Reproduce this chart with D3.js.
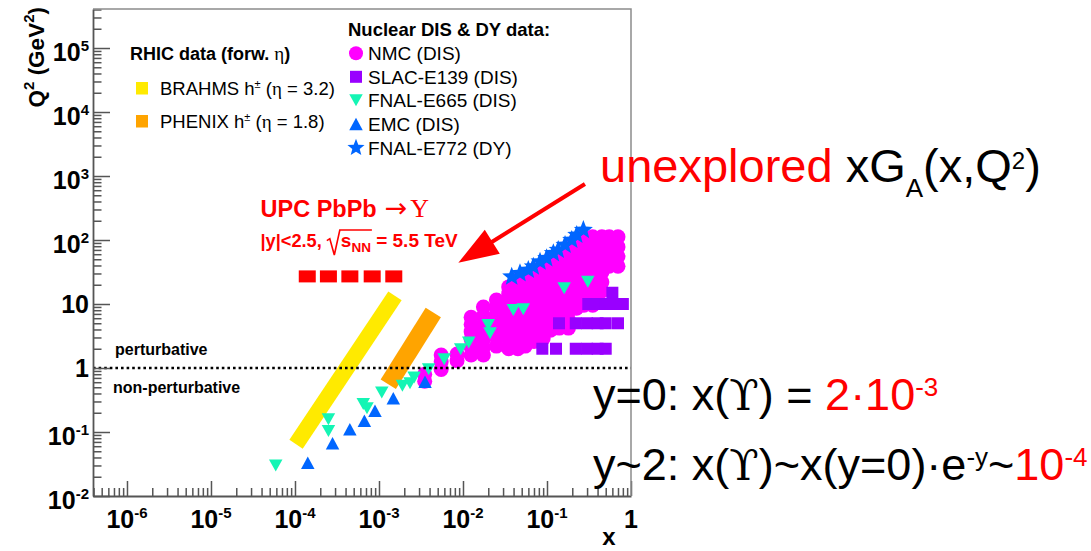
<!DOCTYPE html>
<html>
<head>
<meta charset="utf-8">
<script src="https://cdn.jsdelivr.net/npm/d3@7"></script>
<style>
html, body { margin: 0; padding: 0; background: #fff; }
svg { display: block; }
text { font-family: "Liberation Sans", Arial, Helvetica, sans-serif; white-space: pre; }
</style>
</head>
<body>
<svg id="chart" width="1091" height="551"></svg>
<script>
// ---------------- data ----------------
const xDomain = [3.94e-7, 1];
const q2Domain = [0.01, 4.07e5];

const xTickLabels = [
  { v: 1e-6, base: "10", exp: "-6" },
  { v: 1e-5, base: "10", exp: "-5" },
  { v: 1e-4, base: "10", exp: "-4" },
  { v: 1e-3, base: "10", exp: "-3" },
  { v: 1e-2, base: "10", exp: "-2" },
  { v: 1e-1, base: "10", exp: "-1" },
  { v: 1, base: "1", exp: "" }
];
const q2TickLabels = [
  { v: 1e-2, base: "10", exp: "-2" },
  { v: 1e-1, base: "10", exp: "-1" },
  { v: 1, base: "1", exp: "" },
  { v: 10, base: "10", exp: "" },
  { v: 1e2, base: "10", exp: "2" },
  { v: 1e3, base: "10", exp: "3" },
  { v: 1e4, base: "10", exp: "4" },
  { v: 1e5, base: "10", exp: "5" }
];

// NMC (DIS): x bins and the Q^2 values measured in each bin
const nmcX = [0.0035, 0.0055, 0.0085, 0.0125, 0.0175, 0.025, 0.035, 0.045, 0.055, 0.07,
              0.09, 0.11, 0.14, 0.18, 0.225, 0.275, 0.35, 0.45, 0.55, 0.70];
const nmcQ2 = [
  [0.62, 0.8],
  [0.95, 1.25, 1.6],
  [1.3, 1.65],
  [1.6, 2.1, 2.8, 3.7, 4.8, 6.2],
  [1.6, 2.1, 2.8, 3.7, 4.8, 6.5, 9],
  [2.2, 3, 4, 5.3, 7, 9, 11.5],
  [2, 2.8, 3.7, 5, 6.5, 8.5, 11, 14.5, 18.5],
  [2, 2.8, 3.7, 5, 6.5, 8.5, 11, 14.5, 18.5, 24],
  [2.2, 3, 4, 5.3, 7, 9, 12, 16, 21, 28],
  [2.6, 3.5, 4.6, 6, 8, 10.5, 14, 19, 25, 34],
  [2.9, 3.9, 5.2, 7, 9.3, 12.5, 16.5, 22, 30, 40],
  [3.9, 5.2, 7, 9.3, 12.5, 16.5, 22, 30, 40, 50],
  [4.2, 5.6, 7.5, 10, 13.5, 18, 24, 32, 43, 60],
  [4.2, 5.6, 7.5, 10, 13.5, 18, 24, 32, 43, 58, 78],
  [8.6, 11.5, 15.5, 21, 28, 38, 52, 75, 104],
  [9.6, 13, 18, 25, 35, 48, 65, 85, 112],
  [9.6, 13, 18, 25, 35, 48, 65, 85, 112],
  [16, 22, 31, 44, 62, 85, 112],
  [39, 55, 78, 112],
  [39, 55, 78, 112]
];

// SLAC-E139 (DIS)
const slacX  = [0.088, 0.128, 0.22, 0.3, 0.4, 0.5,
                0.139, 0.22, 0.3, 0.4, 0.5, 0.7,
                0.31, 0.4, 0.5, 0.6, 0.8,
                0.6];
const slacQ2 = [2, 2, 2, 2, 2, 2,
                5, 5, 5, 5, 5, 5,
                10, 10, 10, 10, 10,
                15];

// FNAL-E665 (DIS)
const e665X  = [5.9e-5, 2.5e-4, 2.5e-4, 6.5e-4, 7.2e-4, 1.08e-3, 1.9e-3, 2.34e-3, 2.62e-3,
                3.9e-3, 5.97e-3, 9.4e-3, 0.0117, 0.020, 0.021, 0.0397, 0.0522, 0.16, 0.306];
const e665Q2 = [0.030, 0.158, 0.104, 0.274, 0.235, 0.414, 0.527, 0.58, 0.71,
                0.96, 1.37, 1.97, 2.5, 4.7, 3.49, 8.06, 8.3, 17.6, 22.3];

// EMC (DIS)
const emcX  = [1.42e-4, 2.8e-4, 4.5e-4, 6.7e-4, 8.96e-4, 1.48e-3, 3.53e-3];
const emcQ2 = [0.033, 0.067, 0.11, 0.15, 0.215, 0.336, 0.61];

// FNAL-E772 (DY)
const e772X  = [0.038, 0.0477, 0.0599, 0.0687, 0.0826, 0.0991, 0.119, 0.136, 0.164, 0.197, 0.226, 0.271];
const e772Q2 = [26.7, 30.2, 34, 38.3, 45.8, 51.8, 62, 69.8, 83.5, 100, 119.7, 143];

// UPC PbPb -> Upsilon, |y|<2.5
const upcX  = [1.4e-4, 2.5e-4, 4.5e-4, 8.3e-4, 1.5e-3];
const upcQ2 = [27, 27, 27, 27, 27];

// RHIC forward hadron coverage (band end points)
const brahmsX  = [1.03e-4, 1.55e-3];
const brahmsQ2 = [0.0645, 13.4];
const phenixX  = [1.29e-3, 4.43e-3];
const phenixQ2 = [0.558, 7.36];

// perturbative / non-perturbative boundary
const boundaryQ2 = 1;

// arrow pointing into the unexplored region (tail, tip)
const arrowX  = [0.283, 8.8e-3];
const arrowQ2 = [750, 44];

// ---------------- layout ----------------
const L = 93, R = 631, T = 9, B = 496;
const svg = d3.select("#chart");
const x = d3.scaleLog().domain(xDomain).range([L, R]);
const y = d3.scaleLog().domain(q2Domain).range([B, T]);

const FONT = '"Liberation Sans", Arial, Helvetica, sans-serif';
const SERIF = '"Liberation Serif", "DejaVu Serif", serif';

const col = {
  nmc: "#ff00ff", slac: "#9900ff", e665: "#14f5b4", emc: "#0066ff", e772: "#0066ff",
  brahms: "#ffea00", phenix: "#ffa400", red: "#ff0000", axis: "#555", frame: "#8c8c8c"
};

// text made of pieces (sub/superscripts, mixed fonts), measured piece by piece
function rich(parent, px, py, parts, o = {}) {
  const g = parent.append("g");
  const inner = g.append("g");
  let cx = 0;
  const placed = [];
  for (const p of parts) {
    if (p.gap !== undefined) { placed.push({ x0: cx, x1: cx + p.gap }); cx += p.gap; continue; }
    const t = inner.append("text")
      .attr("xml:space", "preserve")
      .attr("x", cx).attr("y", p.dy || 0)
      .style("font-family", p.family || o.family || FONT)
      .style("font-size", (p.size || o.size) + "px")
      .style("font-weight", p.weight || o.weight || "normal")
      .attr("fill", p.fill || o.fill || "#000")
      .text(p.t);
    const w = t.node().getComputedTextLength();
    placed.push({ x0: cx, x1: cx + w });
    cx += w + (p.after || 0);
  }
  const shift = o.anchor === "middle" ? -cx / 2 : o.anchor === "end" ? -cx : 0;
  inner.attr("transform", `translate(${shift},0)`);
  g.attr("transform", `translate(${px},${py})` + (o.rotate ? ` rotate(${o.rotate})` : ""));
  return { g, inner, placed, width: cx, shift };
}

const isDecade = d => Math.abs(Math.log10(d) - Math.round(Math.log10(d))) < 1e-6;

// ---------------- RHIC bands ----------------
const bands = svg.append("g");
bands.append("line")
  .attr("x1", x(brahmsX[0])).attr("y1", y(brahmsQ2[0]))
  .attr("x2", x(brahmsX[1])).attr("y2", y(brahmsQ2[1]))
  .attr("stroke", col.brahms).attr("stroke-width", 16).attr("stroke-linecap", "butt");
bands.append("line")
  .attr("x1", x(phenixX[0])).attr("y1", y(phenixQ2[0]))
  .attr("x2", x(phenixX[1])).attr("y2", y(phenixQ2[1]))
  .attr("stroke", col.phenix).attr("stroke-width", 18).attr("stroke-linecap", "butt");

// ---------------- markers ----------------
const triDown = (w, h) => `M${-w / 2},${-h / 2}L${w / 2},${-h / 2}L0,${h / 2}Z`;
const triUp = (w, h) => `M${-w / 2},${h / 2}L${w / 2},${h / 2}L0,${-h / 2}Z`;
function starPath(Ro, Ri) {
  const pts = [];
  for (let i = 0; i < 10; i++) {
    const a = -Math.PI / 2 + i * Math.PI / 5;
    const r = i % 2 ? Ri : Ro;
    pts.push([r * Math.cos(a), r * Math.sin(a)]);
  }
  return "M" + pts.map(p => p.join(",")).join("L") + "Z";
}

const marks = svg.append("g");

const nmcPts = nmcX.flatMap((xv, i) => nmcQ2[i].map(q => [xv, q]));
marks.append("g").selectAll("circle").data(nmcPts).join("circle")
  .attr("cx", d => x(d[0])).attr("cy", d => y(d[1])).attr("r", 7.5)
  .attr("fill", col.nmc);

marks.append("g").selectAll("rect").data(slacX.map((v, i) => [v, slacQ2[i]])).join("rect")
  .attr("x", d => x(d[0]) - 6).attr("y", d => y(d[1]) - 6)
  .attr("width", 12).attr("height", 12).attr("fill", col.slac);

marks.append("g").selectAll("path").data(e665X.map((v, i) => [v, e665Q2[i]])).join("path")
  .attr("d", triDown(13.5, 12))
  .attr("transform", d => `translate(${x(d[0])},${y(d[1])})`)
  .attr("fill", col.e665);

marks.append("g").selectAll("path").data(emcX.map((v, i) => [v, emcQ2[i]])).join("path")
  .attr("d", triUp(13.5, 12.5))
  .attr("transform", d => `translate(${x(d[0])},${y(d[1])})`)
  .attr("fill", col.emc);

marks.append("g").selectAll("path").data(e772X.map((v, i) => [v, e772Q2[i]])).join("path")
  .attr("d", starPath(10, 4.3))
  .attr("transform", d => `translate(${x(d[0])},${y(d[1])})`)
  .attr("fill", col.e772);

marks.append("g").selectAll("rect").data(upcX.map((v, i) => [v, upcQ2[i]])).join("rect")
  .attr("x", d => x(d[0]) - 8.5).attr("y", d => y(d[1]) - 6)
  .attr("width", 17).attr("height", 12).attr("fill", col.red);

// ---------------- boundary line ----------------
svg.append("line")
  .attr("x1", L).attr("x2", R).attr("y1", y(boundaryQ2)).attr("y2", y(boundaryQ2))
  .attr("stroke", "#000").attr("stroke-width", 2.6).attr("stroke-dasharray", "2.6,3");

// ---------------- axes ----------------
const gx = svg.append("g").attr("transform", `translate(0,${B})`)
  .call(d3.axisBottom(x).tickValues(x.ticks()).tickSizeInner(-8).tickSizeOuter(0).tickFormat(""));
gx.selectAll(".tick line").attr("y2", d => isDecade(d) ? -15 : -8);
const gy = svg.append("g").attr("transform", `translate(${L},0)`)
  .call(d3.axisLeft(y).tickValues(y.ticks()).tickSizeInner(-8.5).tickSizeOuter(0).tickFormat(""));
gy.selectAll(".tick line").attr("x2", d => isDecade(d) ? 17 : 8.5);
[gx, gy].forEach(g => {
  g.select(".domain").attr("stroke", col.axis).attr("stroke-width", 1.8);
  g.selectAll(".tick line").attr("stroke", col.axis).attr("stroke-width", 1.5);
});
svg.append("path").attr("d", `M${L},${T}H${R}V${B}`)
  .attr("fill", "none").attr("stroke", col.frame).attr("stroke-width", 1.5);

// tick labels
xTickLabels.forEach(t => {
  const parts = [{ t: t.base, size: 25, weight: "bold" }];
  if (t.exp) parts.push({ t: t.exp, size: 15, weight: "bold", dy: -10.5 });
  rich(svg, x(t.v), 528, parts, { anchor: "middle" });
});
q2TickLabels.forEach(t => {
  const parts = [{ t: t.base, size: 25, weight: "bold" }];
  if (t.exp) parts.push({ t: t.exp, size: 15, weight: "bold", dy: -10.5 });
  rich(svg, 89, y(t.v) + (t.exp ? 13 : 9), parts, { anchor: "end" });
});

// axis titles
rich(svg, 44, 7, [
  { t: "Q", size: 22.5, weight: "bold" },
  { t: "2", size: 15, weight: "bold", dy: -10 },
  { t: " (GeV", size: 22.5, weight: "bold" },
  { t: "2", size: 15, weight: "bold", dy: -10 },
  { t: ")", size: 22.5, weight: "bold" }
], { anchor: "end", rotate: -90 });
rich(svg, 609, 545, [{ t: "x", size: 24, weight: "bold" }], { anchor: "middle" });

// regime labels
rich(svg, 115, 355, [{ t: "perturbative", size: 16, weight: "bold" }]);
rich(svg, 113, 393, [{ t: "non-perturbative", size: 16, weight: "bold" }]);

// ---------------- RHIC legend ----------------
rich(svg, 130, 60, [
  { t: "RHIC data (forw. ", size: 18, weight: "bold" },
  { t: "η", size: 19, family: SERIF },
  { t: ")", size: 18, weight: "bold" }
]);
svg.append("rect").attr("x", 136).attr("y", 82).attr("width", 12).attr("height", 12.5).attr("fill", col.brahms);
svg.append("rect").attr("x", 136).attr("y", 115).attr("width", 12).attr("height", 12.5).attr("fill", col.phenix);
[["BRAHMS", "3.2", 95], ["PHENIX", "1.8", 128.3]].forEach(([name, eta, by]) => {
  rich(svg, 160, by, [
    { t: name + " h", size: 18.5 },
    { t: "±", size: 11, dy: -7 },
    { t: " (", size: 18.5 },
    { t: "η", size: 19, family: SERIF },
    { t: " = " + eta + ")", size: 18.5 }
  ]);
});

// ---------------- nuclear data legend ----------------
rich(svg, 348, 36, [{ t: "Nuclear DIS & DY data:", size: 18.5, weight: "bold" }]);
const leg = svg.append("g");
const legRows = [
  { name: "NMC (DIS)", by: 60, draw: g => g.append("circle").attr("r", 7).attr("fill", col.nmc) },
  { name: "SLAC-E139 (DIS)", by: 83.5, draw: g => g.append("rect").attr("x", -6).attr("y", -6).attr("width", 12).attr("height", 12).attr("fill", col.slac) },
  { name: "FNAL-E665 (DIS)", by: 107, draw: g => g.append("path").attr("d", triDown(13.5, 12)).attr("fill", col.e665) },
  { name: "EMC (DIS)", by: 130.8, draw: g => g.append("path").attr("d", triUp(13.5, 12.5)).attr("fill", col.emc) },
  { name: "FNAL-E772 (DY)", by: 154.5, draw: g => g.append("path").attr("d", starPath(9, 3.9)).attr("fill", col.e772) }
];
legRows.forEach(r => {
  r.draw(leg.append("g").attr("transform", `translate(356,${r.by - 6.7})`));
  rich(svg, 368, r.by, [{ t: r.name, size: 19 }]);
});

// ---------------- UPC annotation ----------------
rich(svg, 260.5, 217.3, [
  { t: "UPC PbPb", size: 23.5, weight: "bold", fill: col.red, after: 8 },
  { t: "→", size: 27, family: '"DejaVu Sans", sans-serif', fill: col.red, after: 3 },
  { t: "Υ", size: 26, family: SERIF, fill: col.red }
]);
const upcLine = rich(svg, 260.5, 246.7, [
  { t: "|y|<2.5, ", size: 18.2, weight: "bold", fill: col.red },
  { gap: 14 },
  { t: "s", size: 19, weight: "bold", fill: col.red },
  { t: "NN", size: 13.5, weight: "bold", fill: col.red, dy: 5 },
  { t: " = 5.5 TeV", size: 19, weight: "bold", fill: col.red }
]);
{
  const r0 = upcLine.placed[1].x0, r1 = upcLine.placed[3].x1;
  upcLine.inner.append("path")
    .attr("d", `M${r0},-6 L${r0 + 3},-8 L${r0 + 7.5},8.3 L${r0 + 13},-16.7 L${r1 + 1},-16.7`)
    .attr("fill", "none").attr("stroke", col.red).attr("stroke-width", 1.6);
}

// ---------------- arrow ----------------
{
  const x0 = x(arrowX[0]), y0 = y(arrowQ2[0]), x1 = x(arrowX[1]), y1 = y(arrowQ2[1]);
  const len = Math.hypot(x1 - x0, y1 - y0);
  const ux = (x1 - x0) / len, uy = (y1 - y0) / len;
  const headLen = 40, headHalf = 14.2;
  const bx = x1 - headLen * ux, by = y1 - headLen * uy;
  svg.append("line").attr("x1", x0).attr("y1", y0).attr("x2", bx + 2 * ux).attr("y2", by + 2 * uy)
    .attr("stroke", col.red).attr("stroke-width", 4);
  svg.append("path")
    .attr("d", `M${x1},${y1}L${bx - headHalf * uy},${by + headHalf * ux}L${bx + headHalf * uy},${by - headHalf * ux}Z`)
    .attr("fill", col.red);
}

// ---------------- side annotations ----------------
rich(svg, 600, 182, [
  { t: "unexplored ", size: 47, fill: col.red },
  { t: "xG", size: 47 },
  { t: "A", size: 26, dy: 14.5 },
  { t: "(x,Q", size: 47 },
  { t: "2", size: 24, dy: -13 },
  { t: ")", size: 47 }
]);
const UPS = '"DejaVu Serif", serif';
rich(svg, 593, 410, [
  { t: "y=0: x(", size: 45 },
  { t: "ϒ", size: 43, family: UPS },
  { t: ") = ", size: 45 },
  { t: "2·10", size: 45, fill: col.red },
  { t: "-3", size: 26, fill: col.red, dy: -14 }
]);
rich(svg, 593, 480, [
  { t: "y~2: x(", size: 45 },
  { t: "ϒ", size: 43, family: UPS },
  { t: ")~x(y=0)·e", size: 45 },
  { t: "-y", size: 26, dy: -14 },
  { t: "~", size: 45 },
  { t: "10", size: 45, fill: col.red },
  { t: "-4", size: 26, fill: col.red, dy: -14 }
]);
</script>
</body>
</html>
